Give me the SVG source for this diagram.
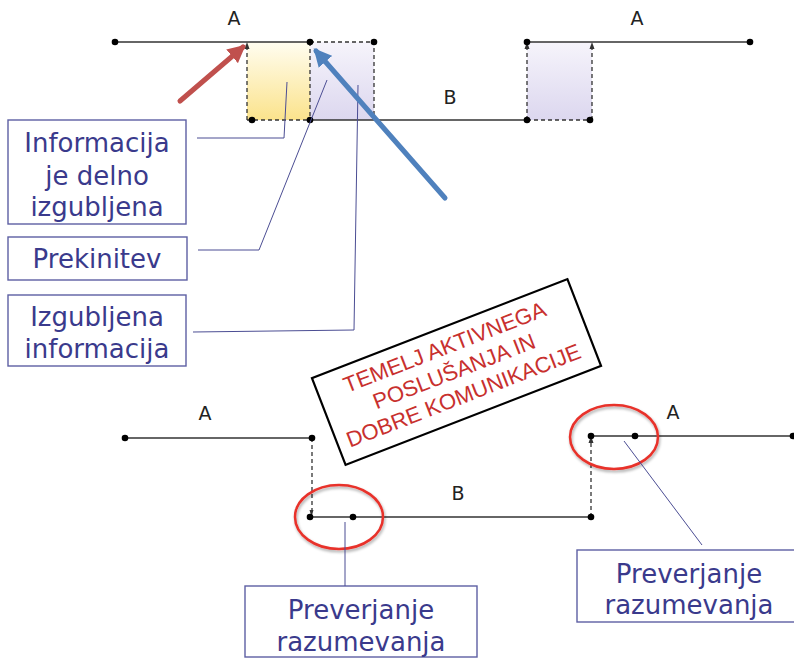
<svg xmlns="http://www.w3.org/2000/svg" width="794" height="659" viewBox="0 0 794 659">
<defs>
<linearGradient id="gy" x1="0" y1="0" x2="0" y2="1"><stop offset="0" stop-color="#fffdf0"/><stop offset="1" stop-color="#fbe38c"/></linearGradient>
<linearGradient id="gp" x1="0" y1="0" x2="0" y2="1"><stop offset="0" stop-color="#f6f4fb"/><stop offset="1" stop-color="#dcd7ef"/></linearGradient>
<marker id="ahR" viewBox="0 0 10 10" refX="8" refY="5" markerWidth="3.6" markerHeight="3.6" orient="auto"><path d="M0,0 L10,5 L0,10 z" fill="#c0504d"/></marker>
<marker id="ahB" viewBox="0 0 10 10" refX="8" refY="5" markerWidth="3.6" markerHeight="3.6" orient="auto"><path d="M0,0 L10,5 L0,10 z" fill="#4f81bd"/></marker>
<filter id="sh" x="-20%" y="-20%" width="140%" height="140%"><feGaussianBlur in="SourceAlpha" stdDeviation="1.5"/><feOffset dx="1" dy="2"/><feComponentTransfer><feFuncA type="linear" slope="0.35"/></feComponentTransfer><feMerge><feMergeNode/><feMergeNode in="SourceGraphic"/></feMerge></filter>
</defs>
<style>
.ln{stroke:#333;stroke-width:1.6;fill:none}
.ds{stroke:#333;stroke-width:1.3;fill:none;stroke-dasharray:4 3}
.dot{fill:#000}
.lbl{font-family:"DejaVu Sans",sans-serif;font-size:19px;fill:#222;text-anchor:middle}
.box{fill:#fff;stroke:#5d5fa3;stroke-width:1.4}
.bt{font-family:"DejaVu Sans",sans-serif;font-size:26px;fill:#3a3a8c;text-anchor:middle}
.ld{stroke:#4b4d93;stroke-width:1;fill:none}
.ell{fill:none;stroke:#e8312b;stroke-width:2.5}
.rt{font-family:"Liberation Sans",sans-serif;font-size:22px;fill:#c8302e;text-anchor:middle}
</style>

<g id="top-timeline">
<rect x="247" y="42" width="63" height="78" fill="url(#gy)"/>
<rect x="310" y="42" width="64" height="78" fill="url(#gp)"/>
<rect x="527" y="42" width="65" height="78" fill="url(#gp)"/>
<line class="ln" x1="115" y1="42" x2="310" y2="42"/>
<line class="ln" x1="310" y1="120" x2="527" y2="120"/>
<line class="ln" x1="527" y1="42" x2="750" y2="42"/>
<path class="ds" d="M247,120 V44"/>
<path class="ds" d="M247,120 H310"/>
<path class="ds" d="M310,42 V118"/>
<path class="ds" d="M310,42 H374 V120"/>
<path class="ds" d="M527,120 V44"/>
<path class="ds" d="M527,120 H590"/>
<path class="ds" d="M592,120 V44"/>
<path d="M244.5,49 L247,42 L249.5,49" fill="#333"/>
<path d="M524.5,49 L527,42 L529.5,49" fill="#333"/>
<path d="M589.5,49 L592,42 L594.5,49" fill="#333"/>
<circle class="dot" cx="115" cy="42" r="3.3"/>
<circle class="dot" cx="310" cy="42" r="3.3"/>
<circle class="dot" cx="374" cy="42" r="3.3"/>
<circle class="dot" cx="252" cy="120" r="3.3"/>
<circle class="dot" cx="310" cy="120" r="3.3"/>
<circle class="dot" cx="527" cy="42" r="3.3"/>
<circle class="dot" cx="750" cy="42" r="3.3"/>
<circle class="dot" cx="527" cy="120" r="3.3"/>
<circle class="dot" cx="590" cy="120" r="3.3"/>
<text class="lbl" x="234" y="25">A</text>
<text class="lbl" x="637" y="25">A</text>
<text class="lbl" x="450" y="104">B</text>
</g>

<g id="box-delno">
<rect class="box" x="8" y="120" width="178" height="104"/>
<text class="bt" x="97" y="152">Informacija</text>
<text class="bt" x="97" y="185">je delno</text>
<text class="bt" x="97" y="216">izgubljena</text>
</g>
<g id="box-prekinitev">
<rect class="box" x="8" y="237" width="179" height="43"/>
<text class="bt" x="97" y="268">Prekinitev</text>
</g>
<g id="box-izgubljena">
<rect class="box" x="8" y="295" width="178" height="71"/>
<text class="bt" x="97" y="326">Izgubljena</text>
<text class="bt" x="97" y="358">informacija</text>
</g>

<g id="stamp" transform="translate(456.5,372) rotate(-21.2)">
<rect x="-137" y="-46.5" width="274" height="93" fill="#fff" stroke="#000" stroke-width="2.2"/>
<text class="rt" x="-2" y="-20">TEMELJ AKTIVNEGA</text>
<text class="rt" x="-2" y="6">POSLUŠANJA IN</text>
<text class="rt" x="-2" y="32">DOBRE KOMUNIKACIJE</text>
</g>

<g id="bottom-timeline">
<line class="ln" x1="125" y1="438" x2="312" y2="438"/>
<line class="ln" x1="310" y1="517" x2="591" y2="517"/>
<line class="ln" x1="591" y1="436" x2="794" y2="436"/>
<path class="ds" d="M312,438 V510"/>
<path d="M309.5,510 L311.5,517 L313.5,510" fill="#333"/>
<path class="ds" d="M591,517 V443"/>
<path d="M588.5,443 L591,436 L593.5,443" fill="#333"/>
<circle class="dot" cx="125" cy="438" r="3.3"/>
<circle class="dot" cx="312" cy="438" r="3.3"/>
<circle class="dot" cx="310" cy="517" r="3.3"/>
<circle class="dot" cx="353" cy="517" r="3.3"/>
<circle class="dot" cx="591" cy="517" r="3.3"/>
<circle class="dot" cx="591" cy="436" r="3.3"/>
<circle class="dot" cx="635" cy="436" r="3.3"/>
<circle class="dot" cx="793" cy="436" r="3.3"/>
<text class="lbl" x="205" y="420">A</text>
<text class="lbl" x="458" y="500">B</text>
<text class="lbl" x="673" y="419">A</text>
<ellipse class="ell" cx="339" cy="517" rx="44" ry="32" filter="url(#sh)"/>
<ellipse class="ell" cx="614" cy="437" rx="44" ry="32" filter="url(#sh)"/>
</g>

<g id="box-prev1">
<rect class="box" x="245" y="586" width="232" height="71"/>
<text class="bt" x="361" y="619">Preverjanje</text>
<text class="bt" x="361" y="651">razumevanja</text>
</g>
<g id="box-prev2">
<rect class="box" x="577" y="550" width="230" height="72"/>
<text class="bt" x="689" y="583">Preverjanje</text>
<text class="bt" x="689" y="614">razumevanja</text>
</g>

<g id="connectors">
<path class="ld" d="M197,138 H284 L287,82"/>
<path class="ld" d="M198,250 H259 L327,80"/>
<path class="ld" d="M193,332 L354,330 L358,85"/>
<path class="ld" d="M345,522 V586"/>
<path class="ld" d="M624,441 L702,545"/>
<line x1="180" y1="101" x2="243" y2="47" stroke="#c0504d" stroke-width="5" stroke-linecap="round" marker-end="url(#ahR)"/>
<line x1="445" y1="198" x2="316" y2="51" stroke="#4f81bd" stroke-width="5" stroke-linecap="round" marker-end="url(#ahB)"/>
</g>
</svg>
